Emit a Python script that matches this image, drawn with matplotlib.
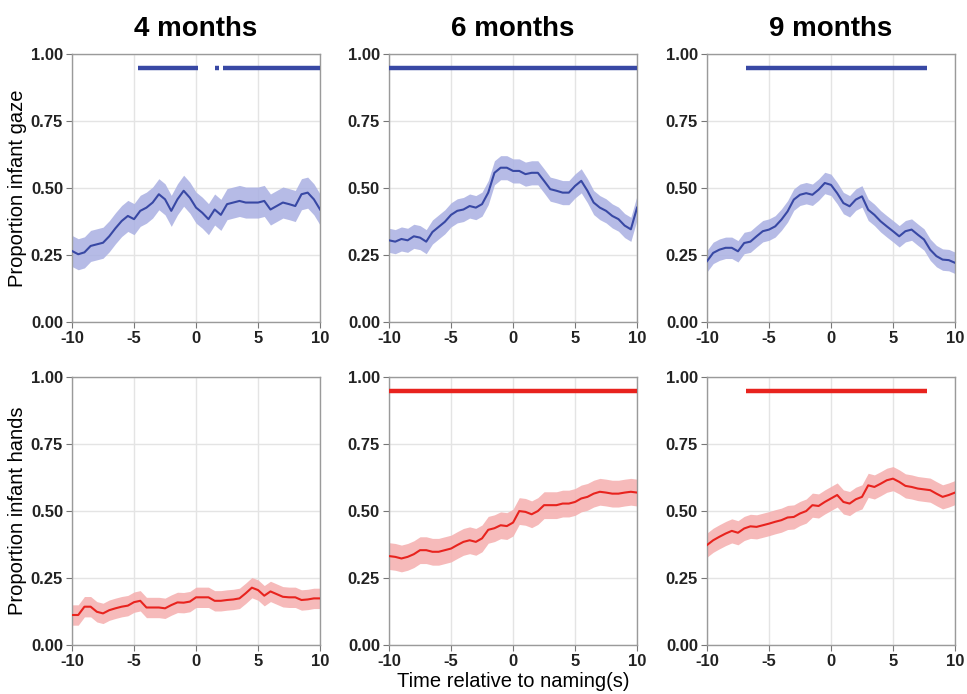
import numpy as np
import matplotlib
matplotlib.use("Agg")
import matplotlib.pyplot as plt

plt.rcParams['font.family'] = ['Liberation Sans', 'DejaVu Sans']

time = np.arange(-10, 10.01, 0.5)

titles = ["4 months", "6 months", "9 months"]
ylabels = ["Proportion infant gaze", "Proportion infant hands"]
xlabel = "Time relative to naming(s)"
xticks = [-10, -5, 0, 5, 10]
yticks = [0.00, 0.25, 0.50, 0.75, 1.00]

gaze_4 = [0.265, 0.253, 0.26, 0.284, 0.29, 0.296, 0.32, 0.35, 0.377, 0.396, 0.384,
          0.415, 0.427, 0.446, 0.477, 0.458, 0.415, 0.458, 0.49, 0.464, 0.427,
          0.408, 0.384, 0.42, 0.40, 0.44, 0.446, 0.452, 0.446, 0.446, 0.446,
          0.452, 0.42, 0.433, 0.446, 0.44, 0.433, 0.477, 0.483, 0.458, 0.42]
gaze_6 = [0.305, 0.30, 0.31, 0.305, 0.32, 0.315, 0.30, 0.336, 0.355, 0.374, 0.40,
          0.415, 0.42, 0.433, 0.427, 0.44, 0.483, 0.557, 0.576, 0.576, 0.564,
          0.564, 0.552, 0.557, 0.557, 0.527, 0.496, 0.49, 0.483, 0.483, 0.508,
          0.527, 0.49, 0.446, 0.427, 0.415, 0.396, 0.384, 0.36, 0.346, 0.427]
gaze_9 = [0.227, 0.258, 0.27, 0.277, 0.277, 0.264, 0.295, 0.30, 0.32, 0.339, 0.345,
          0.357, 0.382, 0.413, 0.457, 0.475, 0.481, 0.475, 0.494, 0.519, 0.512,
          0.481, 0.444, 0.432, 0.457, 0.469, 0.419, 0.40, 0.376, 0.357, 0.339,
          0.32, 0.339, 0.345, 0.326, 0.308, 0.27, 0.246, 0.233, 0.231, 0.221]
hands_4 = [0.112, 0.112, 0.143, 0.143, 0.124, 0.118, 0.13, 0.137, 0.143, 0.147, 0.16,
           0.165, 0.14, 0.14, 0.14, 0.137, 0.149, 0.159, 0.158, 0.162, 0.178,
           0.178, 0.178, 0.165, 0.165, 0.168, 0.17, 0.174, 0.193, 0.214, 0.205,
           0.184, 0.20, 0.19, 0.18, 0.178, 0.178, 0.168, 0.17, 0.174, 0.174]
hands_6 = [0.332, 0.329, 0.323, 0.329, 0.339, 0.354, 0.354, 0.348, 0.348, 0.354, 0.36,
           0.373, 0.385, 0.391, 0.385, 0.398, 0.43, 0.436, 0.447, 0.444, 0.457,
           0.50, 0.497, 0.488, 0.50, 0.522, 0.522, 0.522, 0.528, 0.528, 0.534,
           0.547, 0.553, 0.565, 0.572, 0.569, 0.565, 0.565, 0.569, 0.572, 0.569]
hands_9 = [0.373, 0.391, 0.404, 0.416, 0.426, 0.419, 0.435, 0.443, 0.441, 0.447, 0.453,
           0.46, 0.466, 0.476, 0.478, 0.491, 0.50, 0.522, 0.519, 0.534, 0.547,
           0.56, 0.534, 0.528, 0.544, 0.553, 0.596, 0.59, 0.602, 0.615, 0.621,
           0.609, 0.594, 0.59, 0.584, 0.581, 0.578, 0.565, 0.553, 0.56, 0.569]

gaze_err = [0.058, 0.045, 0.04]
hands_err = [0.038, 0.05, 0.045]

gaze_sig = [[(-4.65, 0.12), (1.5, 1.85), (2.15, 10.0)], [(-10.0, 10.0)], [(-6.86, 7.72)]]
hands_sig = [[], [(-10.0, 10.0)], [(-6.86, 7.72)]]
sig_level = 0.95

gaze = [gaze_4, gaze_6, gaze_9]
hands = [hands_4, hands_6, hands_9]

blue_line = "#3848a4"
blue_fill = "#aab0e2"
red_line = "#e8231e"
red_fill = "#f5aeae"

fig = plt.figure(figsize=(9.67, 6.94), dpi=100)
lefts = [0.0745, 0.4023, 0.7311]
width = 0.2565
bottoms = [0.536, 0.0706]
height = 0.386

rows = [(gaze, gaze_err, gaze_sig, blue_line, blue_fill),
        (hands, hands_err, hands_sig, red_line, red_fill)]

for r, (series, errs, sigs, lc, fc) in enumerate(rows):
    for c in range(3):
        ax = fig.add_axes([lefts[c], bottoms[r], width, height])
        y = np.array(series[c])
        e = errs[c]
        ax.fill_between(time, y - e, y + e, color=fc, alpha=0.85, linewidth=0, zorder=2)
        ax.plot(time, y, color=lc, linewidth=1.5, zorder=3)
        for (a, b) in sigs[c]:
            ax.plot([a, b], [sig_level, sig_level], color=lc, linewidth=3.2,
                    solid_capstyle='butt', zorder=4)
        ax.set_xlim(-10, 10)
        ax.set_ylim(0, 1)
        ax.set_xticks(xticks)
        ax.set_xticklabels([str(t) for t in xticks])
        ax.set_yticks(yticks)
        ax.set_yticklabels([f"{t:.2f}" for t in yticks])
        ax.grid(True, color="#e4e4e4", linewidth=1.0, zorder=0)
        ax.set_axisbelow(True)
        for s in ax.spines.values():
            s.set_color("#9a9a9a")
            s.set_linewidth(1.0)
        ax.tick_params(axis='both', which='major', labelsize=12, length=4,
                       color="#777777", labelcolor="#222222", pad=2.5)
        for lab in ax.get_xticklabels() + ax.get_yticklabels():
            lab.set_fontweight('bold')
        if r == 0:
            ax.set_title(titles[c], fontsize=20, fontweight='bold', pad=13)
        if c == 0:
            ax.set_ylabel(ylabels[r], fontsize=14.5, labelpad=3)
        if r == 1 and c == 1:
            ax.set_xlabel(xlabel, fontsize=14.5, labelpad=2)

fig.savefig("out.png", dpi=100)
